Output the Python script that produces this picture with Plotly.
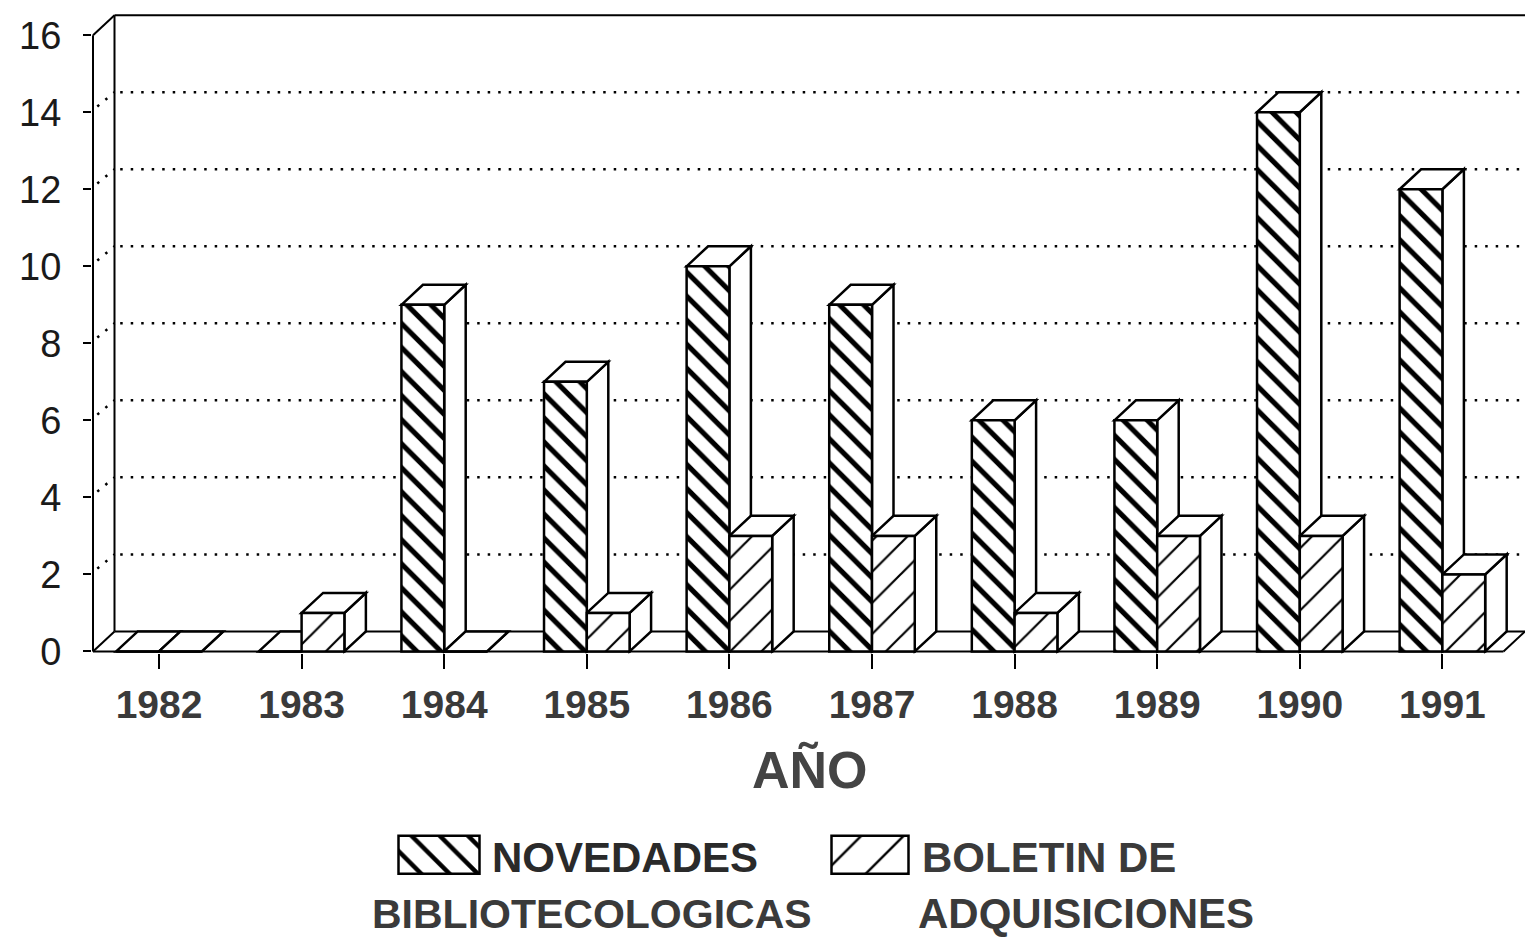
import plotly.graph_objects as go

# ---------------- data ----------------
years = ["1982", "1983", "1984", "1985", "1986", "1987", "1988", "1989", "1990", "1991"]
novedades = [0, 0, 9, 7, 10, 9, 6, 6, 14, 12]
boletin = [0, 1, 0, 1, 3, 3, 1, 3, 3, 2]
y_ticks = [0, 2, 4, 6, 8, 10, 12, 14, 16]
x_title = "AÑO"
name_nov = ["NOVEDADES", "BIBLIOTECOLOGICAS"]
name_bol = ["BOLETIN DE", "ADQUISICIONES"]

# ---------------- layout constants ----------------
W, H = 1525, 939          # target picture size (layout positions given in these px)
HF = 960                  # figure height (photograph is scaled to H)
PXX = 142.6               # px per category
PXY = 38.43               # px per value unit
DX = 21.5 / PXX           # 3D depth offset (x, data units)
DY = 20.0 / PXY           # 3D depth offset (y, data units)
BW = 0.30                 # bar width
XR = [(92 - 159) / PXX, (1525 - 159) / PXX]
YR = [-0.05, 16.55]
X0 = (93 - 159) / PXX     # left wall front
XMAX = XR[1]
YTOP = 16
FONT = "Liberation Sans"

idx = list(range(len(years)))

fig = go.Figure()

fig.add_trace(go.Bar(
    x=[i - BW / 2 for i in idx], y=novedades, width=BW,
    marker=dict(color="white", line=dict(color="black", width=2.5),
                pattern=dict(shape="\\", fgcolor="black", bgcolor="white", fgopacity=1,
                             size=17, solidity=0.3)),
    showlegend=False, xaxis="x", yaxis="y"))
fig.add_trace(go.Bar(
    x=[i + BW / 2 for i in idx], y=boletin, width=BW,
    marker=dict(color="white", line=dict(color="black", width=2.5),
                pattern=dict(shape="/", fgcolor="black", bgcolor="white", fgopacity=1,
                             size=22, solidity=0.1)),
    showlegend=False, xaxis="x", yaxis="y"))

# legend swatches (secondary overlay axes in target pixel space)
fig.add_trace(go.Bar(
    x=[439], y=[38], base=[834], width=[81],
    marker=dict(color="white", line=dict(color="black", width=2.5),
                pattern=dict(shape="\\", fgcolor="black", bgcolor="white", fgopacity=1,
                             size=20, solidity=0.22)),
    showlegend=False, xaxis="x2", yaxis="y2"))
fig.add_trace(go.Bar(
    x=[870], y=[38], base=[834], width=[77],
    marker=dict(color="white", line=dict(color="black", width=2.5),
                pattern=dict(shape="/", fgcolor="black", bgcolor="white", fgopacity=1,
                             size=30, solidity=0.08)),
    showlegend=False, xaxis="x2", yaxis="y2"))

shapes = []
LC = "black"


def line(x0, y0, x1, y1, w=2, dash="solid"):
    shapes.append(dict(type="line", xref="x", yref="y", x0=x0, y0=y0, x1=x1, y1=y1,
                       line=dict(color=LC, width=w, dash=dash), layer="below"))


# walls and floor
line(X0, 0, X0, YTOP)
line(X0, YTOP, X0 + DX, YTOP + DY)
line(X0 + DX, DY, X0 + DX, YTOP + DY)
line(X0 + DX, YTOP + DY, XMAX, YTOP + DY)
line(X0, 0, XMAX - DX, 0)
line(X0 + DX, DY, XMAX, DY)
line(X0, 0, X0 + DX, DY)
line(XMAX - DX, 0, XMAX, DY)

# dotted gridlines on back wall + side wall
for g in y_ticks[1:-1]:
    line(X0 + DX + 0.04, g + DY, XMAX, g + DY, w=2.5, dash="2.5px,8px")
    line(X0 + 0.03, g + 0.15, X0 + DX, g + DY, w=2.5, dash="2.5px,8px")


def box(xl, xr, v):
    side = f"M {xr},0 L {xr + DX},{DY} L {xr + DX},{v + DY} L {xr},{v} Z"
    top = f"M {xl},{v} L {xl + DX},{v + DY} L {xr + DX},{v + DY} L {xr},{v} Z"
    for p in (side, top):
        shapes.append(dict(type="path", xref="x", yref="y", path=p,
                           fillcolor="white", line=dict(color=LC, width=2.5),
                           layer="below"))


for i in idx:
    box(i - BW, i, novedades[i])
    box(i, i + BW, boletin[i])

fig.update_layout(shapes=shapes)

ann = [
    dict(text=x_title, x=810 / W, y=1 - 768 / H, size=52, color="#444444"),
    dict(text=name_nov[0], x=490 / W, y=1 - 856 / H, size=42, xanchor="left", color="#2a2a2a"),
    dict(text=name_bol[0], x=920 / W, y=1 - 856 / H, size=42, xanchor="left", color="#3a3a3a"),
    dict(text=name_nov[1], x=370 / W, y=1 - 912 / H, size=41, xanchor="left", color="#3a3a3a"),
    dict(text=name_bol[1], x=916 / W, y=1 - 912 / H, size=42, xanchor="left", color="#3a3a3a"),
]
annotations = []
for a in ann:
    annotations.append(dict(text="<b>" + a["text"] + "</b>", x=a["x"], y=a["y"],
                            xref="paper", yref="paper", yanchor="middle",
                            xanchor=a.get("xanchor", "center"), showarrow=False,
                            font=dict(size=a["size"], color=a["color"], family=FONT)))
fig.update_layout(annotations=annotations)

fig.update_layout(
    width=W, height=HF,
    margin=dict(l=0, r=0, t=0, b=0),
    paper_bgcolor="white", plot_bgcolor="rgba(0,0,0,0)",
    barmode="overlay", bargap=0,
    showlegend=False,
    xaxis=dict(domain=[92 / W, 1], range=XR, tickmode="array", tickvals=idx,
               ticktext=["<b>" + y + "</b>" for y in years],
               ticks="outside", ticklen=15, tickwidth=2, tickcolor="black",
               showgrid=False, zeroline=False, showline=False,
               tickfont=dict(size=39, color="#3a3a3a", family=FONT),
               ticklabelstandoff=2, fixedrange=True),
    yaxis=dict(domain=[1 - 652 / H, 1 - 14 / H], range=YR, tickmode="array", tickvals=y_ticks,
               ticks="outside", ticklen=8, tickwidth=2, tickcolor="black",
               showgrid=False, zeroline=False, showline=False,
               tickfont=dict(size=38, color="#1a1a1a", family=FONT),
               ticklabelstandoff=14, fixedrange=True),
    xaxis2=dict(domain=[0, 1], range=[0, W], visible=False, anchor="y2", fixedrange=True),
    yaxis2=dict(domain=[0, 1], range=[H, 0], visible=False, anchor="x2", fixedrange=True),
)

page_fix = "document.documentElement.style.margin='0';document.body.style.margin='0';document.body.style.overflow='hidden';"
fig.write_html("out.html", config={"displayModeBar": False, "staticPlot": True},
               post_script=page_fix)
